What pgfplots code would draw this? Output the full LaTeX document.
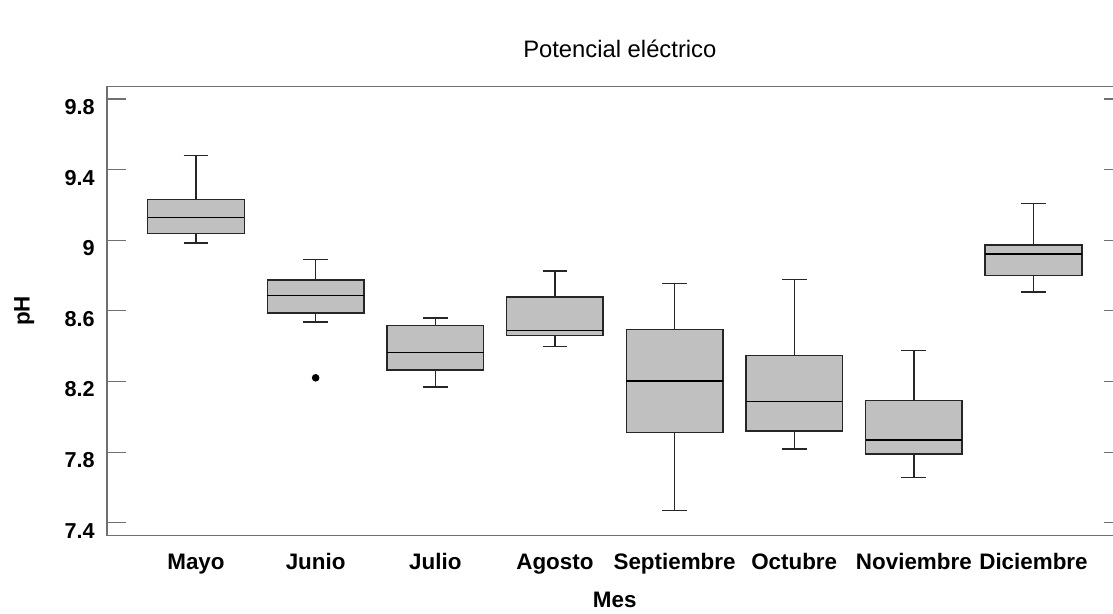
\documentclass[border=0pt]{standalone}
\usepackage{pgfplots}
\pgfplotsset{compat=1.18}
\usepgfplotslibrary{statistics}
\usepackage{fontspec}
\setmainfont{Liberation Sans}

\definecolor{boxfill}{HTML}{C0C0C0}
\definecolor{framegray}{HTML}{707070}
\definecolor{edge}{HTML}{262626}

% one prepared box per month
\pgfplotsset{
  mesbox/.style={
    draw=edge, fill=boxfill, line width=0.75pt,
    boxplot/box extend=0.807,
    boxplot/whisker extend=0.207,
    boxplot/every median/.style={draw=black, line width=0.75pt},
    boxplot/every whisker/.style={draw=edge, line width=0.7pt},
    mark=*, mark size=1.5pt, mark options={fill=black, draw=black}
  }
}

\begin{document}
\begin{tikzpicture}
\begin{axis}[
  at={(0,0)}, anchor=south west,
  scale only axis,
  width=507.75pt, height=224.5pt,
  boxplot/draw direction=y,
  xmin=-0.744, xmax=7.744,
  ymin=7.329, ymax=9.872,
  axis line style={draw=framegray, line width=0.6pt},
  xtick={0,1,2,3,4,5,6,7},
  xticklabels={Mayo,Junio,Julio,Agosto,Septiembre,Octubre,Noviembre,Diciembre},
  x tick style={draw=none},
  ytick={7.4,7.8,8.2,8.6,9,9.4,9.8},
  ytick pos=both, yticklabel pos=left,
  y tick style={draw=framegray, line width=0.6pt},
  tick align=inside,
  major tick length=9.5pt,
  /pgf/number format/assume math mode=true,
  yticklabel style={anchor=north east, inner sep=0pt, xshift=-6pt,
    font=\bfseries\fontsize{10.8}{12}\selectfont},
  xticklabel style={anchor=base, inner sep=0pt, yshift=-17pt,
    font=\bfseries\fontsize{11.2}{13}\selectfont},
  every axis title shift=0pt,
  title={Potencial eléctrico},
  title style={at={(axis description cs:0.505,1.065)}, anchor=base, inner sep=0pt,
    font=\fontsize{11.9}{14}\selectfont},
  xlabel={Mes},
  xlabel style={at={(axis description cs:0.5,-0.1597)}, anchor=base, inner sep=0pt,
    font=\bfseries\fontsize{11.2}{13}\selectfont},
  ylabel={pH},
  ylabel style={at={(axis description cs:-0.0763,0.5)}, rotate=0, anchor=base, inner sep=0pt,
    font=\bfseries\fontsize{11.2}{13}\selectfont},
]
% Mayo
\addplot[mesbox, boxplot prepared={draw position=0,
  lower whisker=8.984, lower quartile=9.037, median=9.128,
  upper quartile=9.232, upper whisker=9.479}] coordinates {};
% Junio (one outlier)
\addplot[mesbox, boxplot prepared={draw position=1,
  lower whisker=8.537, lower quartile=8.588, median=8.688,
  upper quartile=8.776, upper whisker=8.890}]
  table[row sep=\\, y index=0] {ph\\ 8.221\\};
% Julio
\addplot[mesbox, boxplot prepared={draw position=2,
  lower whisker=8.168, lower quartile=8.266, median=8.363,
  upper quartile=8.518, upper whisker=8.559}] coordinates {};
% Agosto
\addplot[mesbox, boxplot prepared={draw position=3,
  lower whisker=8.399, lower quartile=8.461, median=8.489,
  upper quartile=8.678, upper whisker=8.827}] coordinates {};
% Septiembre
\addplot[mesbox, boxplot prepared={draw position=4,
  lower whisker=7.468, lower quartile=7.910, median=8.202,
  upper quartile=8.495, upper whisker=8.754}] coordinates {};
% Octubre
\addplot[mesbox, boxplot prepared={draw position=5,
  lower whisker=7.817, lower quartile=7.921, median=8.087,
  upper quartile=8.346, upper whisker=8.777}] coordinates {};
% Noviembre
\addplot[mesbox, boxplot prepared={draw position=6,
  lower whisker=7.656, lower quartile=7.790, median=7.870,
  upper quartile=8.093, upper whisker=8.374}] coordinates {};
% Diciembre
\addplot[mesbox, boxplot prepared={draw position=7,
  lower whisker=8.708, lower quartile=8.801, median=8.922,
  upper quartile=8.973, upper whisker=9.207}] coordinates {};
\end{axis}
% page frame: the right edge of the plot box lies just past the page
\pgfresetboundingbox
\path[use as bounding box]
  ([xshift=-53.5pt,yshift=-39.35pt]current axis.south west)
  rectangle ([xshift=503pt,yshift=267.65pt]current axis.south west);
\end{tikzpicture}
\end{document}
